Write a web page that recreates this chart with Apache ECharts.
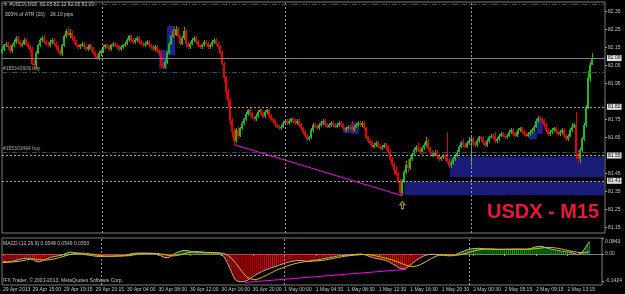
<!DOCTYPE html>
<html>
<head>
<meta charset="utf-8">
<title>USDX M15</title>
<script src="https://cdn.jsdelivr.net/npm/echarts@6/dist/echarts.min.js"></script>
<style>
html,body{margin:0;padding:0;background:#000;}
#chart{width:625px;height:294px;}
</style>
</head>
<body>
<div id="chart"></div>
<script>
// M15 bars, [open, close, low, high]
var bars = [
[82.12,82.14,82.11,82.15],[82.14,82.16,82.13,82.17],[82.16,82.17,82.15,82.18],[82.17,82.15,82.14,82.18],[82.15,82.13,82.12,82.16],[82.13,82.16,82.12,82.17],[82.16,82.18,82.15,82.19],[82.18,82.20,82.17,82.21],[82.20,82.18,82.17,82.21],[82.18,82.16,82.15,82.19],
[82.16,82.17,82.15,82.18],[82.17,82.19,82.16,82.20],[82.19,82.17,82.16,82.20],[82.17,82.15,82.14,82.18],[82.15,82.14,82.12,82.16],[82.14,82.06,82.05,82.15],[82.06,82.05,82.03,82.08],[82.05,82.12,82.03,82.13],[82.12,82.16,82.11,82.17],[82.16,82.19,82.15,82.20],
[82.19,82.20,82.18,82.21],[82.20,82.18,82.17,82.22],[82.18,82.17,82.16,82.19],[82.17,82.16,82.15,82.18],[82.16,82.18,82.15,82.19],[82.18,82.19,82.17,82.20],[82.19,82.17,82.16,82.20],[82.17,82.15,82.14,82.18],[82.15,82.13,82.12,82.16],[82.13,82.11,82.10,82.14],
[82.11,82.16,82.10,82.17],[82.16,82.21,82.15,82.22],[82.21,82.24,82.20,82.25],[82.24,82.22,82.21,82.26],[82.22,82.23,82.20,82.25],[82.23,82.20,82.19,82.24],[82.20,82.18,82.17,82.21],[82.18,82.16,82.15,82.19],[82.16,82.15,82.14,82.17],[82.15,82.16,82.14,82.17],
[82.16,82.17,82.15,82.18],[82.17,82.15,82.14,82.18],[82.15,82.14,82.13,82.16],[82.14,82.15,82.13,82.16],[82.15,82.16,82.14,82.17],[82.16,82.14,82.13,82.17],[82.14,82.12,82.11,82.15],[82.12,82.10,82.09,82.13],[82.10,82.09,82.08,82.11],[82.09,82.12,82.08,82.13],
[82.12,82.13,82.10,82.14],[82.13,82.15,82.12,82.16],[82.15,82.16,82.14,82.17],[82.16,82.15,82.14,82.17],[82.15,82.14,82.13,82.16],[82.14,82.16,82.13,82.17],[82.16,82.17,82.15,82.18],[82.17,82.16,82.15,82.18],[82.16,82.15,82.14,82.17],[82.15,82.14,82.13,82.16],
[82.14,82.15,82.13,82.16],[82.15,82.16,82.14,82.17],[82.16,82.17,82.15,82.18],[82.17,82.19,82.16,82.20],[82.19,82.21,82.18,82.22],[82.21,82.19,82.18,82.22],[82.19,82.18,82.17,82.20],[82.18,82.19,82.17,82.20],[82.19,82.20,82.18,82.21],[82.20,82.18,82.17,82.21],
[82.18,82.17,82.16,82.19],[82.17,82.16,82.15,82.18],[82.16,82.17,82.15,82.18],[82.17,82.18,82.16,82.19],[82.18,82.16,82.15,82.19],[82.16,82.15,82.14,82.17],[82.15,82.14,82.13,82.16],[82.14,82.15,82.13,82.16],[82.15,82.13,82.12,82.16],[82.13,82.12,82.10,82.14],
[82.12,82.05,82.04,82.13],[82.05,82.04,82.03,82.07],[82.04,82.07,82.03,82.08],[82.07,82.12,82.06,82.13],[82.12,82.17,82.11,82.18],[82.17,82.21,82.16,82.22],[82.21,82.24,82.20,82.25],[82.24,82.22,82.21,82.26],[82.22,82.25,82.21,82.27],[82.25,82.21,82.20,82.26],
[82.21,82.17,82.16,82.22],[82.17,82.20,82.16,82.21],[82.20,82.24,82.19,82.26],[82.24,82.17,82.15,82.25],[82.17,82.15,82.14,82.18],[82.15,82.17,82.14,82.18],[82.17,82.19,82.16,82.20],[82.19,82.20,82.18,82.21],[82.20,82.18,82.17,82.21],[82.18,82.16,82.15,82.19],
[82.16,82.15,82.14,82.17],[82.15,82.16,82.14,82.17],[82.16,82.18,82.15,82.19],[82.18,82.17,82.16,82.19],[82.17,82.15,82.14,82.18],[82.15,82.16,82.14,82.17],[82.16,82.18,82.15,82.19],[82.18,82.19,82.17,82.20],[82.19,82.17,82.16,82.20],[82.17,82.15,82.14,82.18],
[82.15,82.12,82.11,82.16],[82.12,82.06,82.05,82.13],[82.06,81.98,81.96,82.07],[81.98,81.90,81.87,81.99],[81.90,81.85,81.82,81.92],[81.85,81.74,81.72,81.87],[81.74,81.68,81.65,81.76],[81.68,81.63,81.61,81.70],[81.63,81.69,81.62,81.70],[81.69,81.66,81.64,81.71],
[81.66,81.70,81.65,81.71],[81.70,81.73,81.69,81.74],[81.73,81.75,81.72,81.76],[81.75,81.78,81.74,81.79],[81.78,81.80,81.77,81.81],[81.80,81.78,81.77,81.82],[81.78,81.76,81.75,81.79],[81.76,81.75,81.74,81.77],[81.75,81.77,81.74,81.78],[81.77,81.79,81.76,81.80],
[81.79,81.80,81.78,81.81],[81.80,81.78,81.77,81.81],[81.78,81.77,81.76,81.79],[81.77,81.79,81.76,81.80],[81.79,81.80,81.78,81.81],[81.80,81.77,81.76,81.81],[81.77,81.75,81.74,81.78],[81.75,81.74,81.73,81.76],[81.74,81.72,81.71,81.75],[81.72,81.71,81.70,81.73],
[81.71,81.70,81.69,81.72],[81.70,81.71,81.69,81.72],[81.71,81.73,81.70,81.74],[81.73,81.74,81.72,81.75],[81.74,81.73,81.72,81.75],[81.73,81.74,81.72,81.75],[81.74,81.75,81.73,81.76],[81.75,81.74,81.73,81.76],[81.74,81.73,81.72,81.75],[81.73,81.74,81.72,81.75],
[81.74,81.72,81.71,81.75],[81.72,81.70,81.69,81.73],[81.70,81.68,81.67,81.71],[81.68,81.66,81.65,81.69],[81.66,81.64,81.63,81.67],[81.64,81.65,81.63,81.66],[81.65,81.69,81.64,81.70],[81.69,81.72,81.68,81.73],[81.72,81.71,81.70,81.73],[81.71,81.70,81.69,81.72],
[81.70,81.72,81.69,81.73],[81.72,81.73,81.71,81.74],[81.73,81.74,81.72,81.75],[81.74,81.72,81.71,81.75],[81.72,81.71,81.70,81.73],[81.71,81.72,81.70,81.73],[81.72,81.73,81.71,81.74],[81.73,81.72,81.71,81.74],[81.72,81.71,81.70,81.73],[81.71,81.72,81.70,81.73],
[81.72,81.73,81.71,81.74],[81.73,81.72,81.71,81.74],[81.72,81.70,81.69,81.73],[81.70,81.69,81.68,81.71],[81.69,81.70,81.68,81.71],[81.70,81.71,81.69,81.72],[81.71,81.70,81.69,81.72],[81.70,81.69,81.68,81.74],[81.69,81.71,81.68,81.72],[81.71,81.72,81.70,81.73],
[81.72,81.73,81.71,81.74],[81.73,81.72,81.71,81.74],[81.72,81.73,81.71,81.74],[81.73,81.70,81.69,81.74],[81.70,81.65,81.64,81.71],[81.65,81.63,81.62,81.66],[81.63,81.62,81.61,81.64],[81.62,81.60,81.59,81.63],[81.60,81.61,81.59,81.62],[81.61,81.62,81.60,81.63],
[81.62,81.60,81.59,81.63],[81.60,81.59,81.58,81.61],[81.59,81.60,81.58,81.61],[81.60,81.61,81.59,81.62],[81.61,81.60,81.58,81.62],[81.60,81.57,81.56,81.61],[81.57,81.53,81.52,81.58],[81.53,81.50,81.49,81.54],[81.50,81.47,81.45,81.51],[81.47,81.45,81.44,81.49],
[81.45,81.41,81.40,81.46],[81.41,81.34,81.33,81.42],[81.34,81.41,81.33,81.42],[81.41,81.46,81.40,81.47],[81.46,81.50,81.45,81.52],[81.50,81.48,81.46,81.53],[81.48,81.53,81.47,81.54],[81.53,81.56,81.52,81.57],[81.56,81.58,81.55,81.59],[81.58,81.60,81.57,81.61],
[81.60,81.58,81.57,81.62],[81.58,81.57,81.56,81.60],[81.57,81.59,81.56,81.60],[81.59,81.61,81.58,81.62],[81.61,81.63,81.60,81.65],[81.63,81.59,81.58,81.64],[81.59,81.57,81.56,81.60],[81.57,81.55,81.54,81.58],[81.55,81.56,81.54,81.57],[81.56,81.57,81.55,81.58],
[81.57,81.55,81.53,81.58],[81.55,81.53,81.52,81.56],[81.53,81.54,81.52,81.55],[81.54,81.55,81.53,81.56],[81.55,81.54,81.52,81.56],[81.54,81.52,81.51,81.68],[81.52,81.50,81.48,81.53],[81.50,81.51,81.48,81.52],[81.51,81.53,81.50,81.54],[81.53,81.55,81.52,81.56],
[81.55,81.57,81.54,81.58],[81.57,81.60,81.56,81.61],[81.60,81.62,81.59,81.63],[81.62,81.61,81.60,81.64],[81.61,81.60,81.59,81.62],[81.60,81.62,81.59,81.63],[81.62,81.63,81.61,81.65],[81.63,81.64,81.49,81.65],[81.64,81.62,81.61,81.65],[81.62,81.61,81.60,81.63],
[81.61,81.63,81.60,81.64],[81.63,81.65,81.62,81.66],[81.65,81.64,81.63,81.66],[81.64,81.62,81.61,81.65],[81.62,81.61,81.60,81.63],[81.61,81.63,81.60,81.64],[81.63,81.65,81.62,81.66],[81.65,81.66,81.64,81.67],[81.66,81.65,81.64,81.67],[81.65,81.63,81.62,81.68],
[81.63,81.64,81.62,81.65],[81.64,81.66,81.63,81.67],[81.66,81.67,81.65,81.68],[81.67,81.66,81.65,81.68],[81.66,81.65,81.64,81.67],[81.65,81.66,81.64,81.67],[81.66,81.68,81.65,81.69],[81.68,81.69,81.67,81.70],[81.69,81.67,81.66,81.70],[81.67,81.66,81.65,81.68],
[81.66,81.68,81.65,81.69],[81.68,81.69,81.67,81.70],[81.69,81.70,81.68,81.71],[81.70,81.68,81.67,81.71],[81.68,81.67,81.66,81.69],[81.67,81.66,81.65,81.68],[81.66,81.67,81.65,81.68],[81.67,81.68,81.66,81.69],[81.68,81.69,81.67,81.70],[81.69,81.71,81.68,81.72],
[81.71,81.74,81.70,81.75],[81.74,81.76,81.73,81.77],[81.76,81.75,81.74,81.77],[81.75,81.74,81.73,81.76],[81.74,81.72,81.71,81.75],[81.72,81.69,81.68,81.73],[81.69,81.67,81.66,81.70],[81.67,81.68,81.66,81.69],[81.68,81.69,81.67,81.70],[81.69,81.70,81.68,81.71],
[81.70,81.68,81.67,81.71],[81.68,81.67,81.66,81.69],[81.67,81.68,81.66,81.69],[81.68,81.69,81.67,81.70],[81.69,81.66,81.65,81.70],[81.66,81.64,81.63,81.67],[81.64,81.66,81.63,81.67],[81.66,81.69,81.65,81.70],[81.69,81.71,81.68,81.73],[81.71,81.72,81.70,81.73],
[81.72,81.56,81.53,81.79],[81.56,81.53,81.51,81.58],[81.53,81.58,81.51,81.59],[81.58,81.64,81.57,81.65],[81.64,81.72,81.63,81.73],[81.72,81.82,81.71,81.83],[81.82,81.98,81.81,82.02],[81.98,82.05,81.96,82.07],[82.05,82.09,82.05,82.12]
];

var macd = [
-0.045,-0.045,-0.044,-0.043,-0.041,-0.038,-0.035,-0.032,-0.029,-0.027,
-0.025,-0.023,-0.022,-0.022,-0.023,-0.028,-0.035,-0.040,-0.042,-0.040,
-0.036,-0.031,-0.027,-0.023,-0.019,-0.016,-0.013,-0.011,-0.010,-0.010,
-0.006,-0.001,0.004,0.009,0.010,0.009,0.008,0.006,0.004,0.002,
0.000,-0.002,-0.004,-0.006,-0.007,-0.008,-0.010,-0.012,-0.013,-0.014,
-0.014,-0.013,-0.012,-0.012,-0.012,-0.011,-0.011,-0.011,-0.010,-0.010,
-0.010,-0.009,-0.007,-0.005,-0.002,0.001,0.003,0.004,0.005,0.005,
0.005,0.005,0.004,0.004,0.003,0.003,0.002,0.001,0.000,-0.002,
-0.008,-0.014,-0.018,-0.021,-0.020,-0.014,-0.007,0.000,0.006,0.011,
0.014,0.016,0.019,0.020,0.017,0.014,0.012,0.011,0.009,0.008,
0.008,0.007,0.006,0.006,0.006,0.006,0.006,0.006,0.006,0.005,
0.004,0.000,-0.010,-0.025,-0.045,-0.068,-0.092,-0.115,-0.135,-0.145,
-0.146,-0.146,-0.146,-0.145,-0.140,-0.133,-0.126,-0.119,-0.113,-0.107,
-0.101,-0.096,-0.091,-0.086,-0.082,-0.078,-0.074,-0.070,-0.067,-0.064,
-0.061,-0.057,-0.053,-0.049,-0.046,-0.043,-0.041,-0.039,-0.037,-0.035,
-0.034,-0.034,-0.035,-0.037,-0.039,-0.039,-0.037,-0.035,-0.033,-0.032,
-0.031,-0.029,-0.027,-0.025,-0.023,-0.021,-0.019,-0.017,-0.015,-0.013,
-0.011,-0.010,-0.009,-0.008,-0.007,-0.006,-0.005,-0.004,-0.003,-0.002,
-0.001,0.000,0.000,-0.001,-0.004,-0.008,-0.012,-0.016,-0.019,-0.022,
-0.024,-0.026,-0.028,-0.030,-0.032,-0.035,-0.040,-0.046,-0.052,-0.058,
-0.064,-0.071,-0.077,-0.080,-0.079,-0.074,-0.067,-0.059,-0.050,-0.041,
-0.033,-0.026,-0.020,-0.015,-0.010,-0.006,-0.003,-0.001,-0.001,-0.002,
-0.003,-0.004,-0.005,-0.006,-0.007,-0.008,-0.009,-0.010,-0.010,-0.008,
-0.004,0.001,0.006,0.011,0.015,0.019,0.022,0.025,0.027,0.028,
0.029,0.030,0.030,0.029,0.028,0.027,0.026,0.025,0.025,0.024,
0.024,0.024,0.024,0.024,0.024,0.024,0.025,0.025,0.025,0.026,
0.026,0.026,0.026,0.026,0.025,0.025,0.025,0.026,0.028,0.031,
0.035,0.038,0.040,0.041,0.040,0.037,0.033,0.030,0.027,0.025,
0.023,0.021,0.019,0.017,0.015,0.013,0.012,0.011,0.010,0.010,
0.005,-0.001,-0.004,-0.002,0.006,0.018,0.034,0.050,0.065
];

var signal = [
-0.040,-0.041,-0.042,-0.042,-0.042,-0.042,-0.041,-0.040,-0.039,-0.037,
-0.035,-0.033,-0.031,-0.029,-0.027,-0.026,-0.026,-0.027,-0.029,-0.030,
-0.031,-0.032,-0.032,-0.031,-0.030,-0.028,-0.026,-0.024,-0.021,-0.018,
-0.015,-0.012,-0.009,-0.006,-0.003,-0.001,0.001,0.003,0.004,0.005,
0.005,0.004,0.003,0.002,0.001,0.000,-0.002,-0.004,-0.006,-0.008,
-0.009,-0.010,-0.011,-0.012,-0.012,-0.012,-0.012,-0.012,-0.011,-0.011,
-0.011,-0.011,-0.010,-0.010,-0.009,-0.008,-0.006,-0.004,-0.002,0.000,
0.002,0.003,0.004,0.004,0.004,0.004,0.004,0.003,0.003,0.002,
0.001,-0.001,-0.003,-0.005,-0.007,-0.009,-0.010,-0.010,-0.009,-0.007,
-0.005,-0.002,0.001,0.004,0.007,0.009,0.011,0.012,0.012,0.012,
0.012,0.011,0.010,0.009,0.008,0.007,0.007,0.006,0.006,0.006,
0.006,0.005,0.003,0.000,-0.005,-0.012,-0.021,-0.032,-0.045,-0.058,
-0.072,-0.086,-0.099,-0.111,-0.122,-0.128,-0.132,-0.134,-0.135,-0.134,
-0.131,-0.127,-0.122,-0.117,-0.112,-0.107,-0.101,-0.096,-0.091,-0.086,
-0.081,-0.077,-0.073,-0.069,-0.065,-0.061,-0.058,-0.055,-0.052,-0.049,
-0.047,-0.045,-0.043,-0.041,-0.040,-0.039,-0.038,-0.038,-0.037,-0.037,
-0.036,-0.035,-0.034,-0.033,-0.031,-0.029,-0.027,-0.025,-0.023,-0.021,
-0.019,-0.017,-0.015,-0.013,-0.012,-0.010,-0.009,-0.008,-0.007,-0.006,
-0.005,-0.004,-0.003,-0.003,-0.003,-0.003,-0.004,-0.005,-0.007,-0.009,
-0.011,-0.013,-0.016,-0.018,-0.021,-0.023,-0.026,-0.029,-0.032,-0.035,
-0.039,-0.043,-0.047,-0.052,-0.056,-0.060,-0.063,-0.065,-0.066,-0.066,
-0.064,-0.061,-0.057,-0.052,-0.046,-0.040,-0.034,-0.028,-0.022,-0.017,
-0.012,-0.009,-0.006,-0.005,-0.004,-0.004,-0.005,-0.005,-0.006,-0.007,
-0.007,-0.006,-0.005,-0.003,0.000,0.003,0.006,0.009,0.012,0.015,
0.018,0.020,0.022,0.024,0.025,0.026,0.027,0.027,0.027,0.027,
0.026,0.026,0.025,0.025,0.025,0.025,0.025,0.025,0.025,0.025,
0.025,0.025,0.025,0.025,0.025,0.025,0.025,0.025,0.026,0.026,
0.027,0.028,0.029,0.031,0.032,0.033,0.034,0.034,0.034,0.034,
0.033,0.032,0.030,0.028,0.026,0.024,0.021,0.019,0.017,0.015,
0.013,0.011,0.009,0.007,0.006,0.006,0.007,0.009,0.012
];

var timeLabels = ['29 Apr 2013','29 Apr 15:00','29 Apr 19:15','29 Apr 23:15','30 Apr 04:00','30 Apr 08:00','30 Apr 12:00','30 Apr 16:00','30 Apr 20:00','1 May 00:00','1 May 04:30','1 May 08:30','1 May 12:30','1 May 16:30','1 May 20:30','2 May 00:30','2 May 05:15','2 May 09:15','2 May 13:15'];
var labelBars = [0,15,31,47,63,79,95,111,127,143,159,175,191,207,223,239,255,271,287];
var daySplits = [50,143,237];

var priceTicks = [82.35,82.25,82.15,82.05,81.95,81.75,81.65,81.45,81.35,81.25,81.15];
var macdTicks = [0.0843,0,-0.1424];

// order lines and marked levels
var orderLevels = [82.39,82.01,81.57];
var orderTickets = ['','#155342609 buy','#155303494 buy'];
var bidPrice = 82.09;
var markLevels = [81.82,81.55,81.41];

// supply/demand boxes: [fromBar, top, toBar, bottom]
var zones = [[226,81.545,304,81.43],[203,81.405,304,81.33]];
var smallZones = [[79,82.135,83,82.03],[83,82.268,87,82.107],[172,81.71,176,81.675],[176,81.735,180,81.67],[266,81.68,270,81.64],[270,81.76,273,81.67]];

// divergence lines
var priceDiv = [[117,81.61],[202,81.327]];
var macdDiv = [[123,-0.150],[205,-0.081]];
var arrowPoint = [202,81.275];

var slots = 305;
var cats = [];
for (var i = 0; i < slots; i++) cats.push(String(i));

var candleData = bars.map(function (b, k) { return [k, b[0], b[1], b[2], b[3]]; });

var font = 'Liberation Sans';
var txt = '#c4c4c4';
var frame = '#7c7c7c';
var bull = '#1cbc1c', bear = '#ee0000';

var sepStyle = {color:'#9a9a9a', type:[2,2], width:1};
var dashDot = {color:'#2f5252', type:[5,2,1,2], width:1};
var dotted = {color:'#a8a8a8', type:[2,2], width:1};
var boxLabel = function (t) {
	return {show:true, position:'end', distance:2, formatter:t, color:'#000', backgroundColor:'#e4e4e4',
		fontSize:5, fontFamily:font, padding:[1,1,0,1]};
};

var mainLines = [];
daySplits.forEach(function (b) { mainLines.push({xAxis:b, lineStyle:sepStyle}); });
orderLevels.forEach(function (p, k) {
	var it = {yAxis:p, lineStyle:dashDot};
	if (orderTickets[k]) it.label = {show:true, position:'insideStartTop', distance:1, formatter:orderTickets[k], color:'#a8a8a8', fontSize:5, fontFamily:font};
	mainLines.push(it);
});
mainLines.push({yAxis:bidPrice, lineStyle:{color:'#808080', type:'solid', width:1}, label:boxLabel(bidPrice.toFixed(2))});
markLevels.forEach(function (p) { mainLines.push({yAxis:p, lineStyle:dotted, label:boxLabel(p.toFixed(2))}); });
mainLines.push([
	{coord:priceDiv[0], lineStyle:{color:'#ff00ff', width:1, type:'solid'}},
	{coord:priceDiv[1], lineStyle:{color:'#ff00ff', width:1, type:'solid'}}
]);

var macdLines = [];
daySplits.forEach(function (b) { macdLines.push({xAxis:b, lineStyle:sepStyle}); });
macdLines.push([
	{coord:macdDiv[0], lineStyle:{color:'#ff00ff', width:1, type:'solid'}},
	{coord:macdDiv[1], lineStyle:{color:'#ff00ff', width:1, type:'solid'}}
]);

var areas = [];
zones.forEach(function (z) {
	areas.push([{xAxis:z[0], yAxis:z[1], itemStyle:{color:'#1b1b78'}}, {xAxis:z[2], yAxis:z[3]}]);
});
smallZones.forEach(function (z) {
	areas.push([{xAxis:z[0], yAxis:z[1], itemStyle:{color:'#22228c'}}, {xAxis:z[2], yAxis:z[3]}]);
});

function isLabelBar(idx) { return labelBars.indexOf(idx) >= 0; }

// pixel-snapped MT4 style candle: 1px wick, 2px body
function renderCandle(params, api) {
	var k = api.value(0), o = api.value(1), c = api.value(2), l = api.value(3), h = api.value(4);
	var pO = api.coord([k, o]), pC = api.coord([k, c]), pL = api.coord([k, l]), pH = api.coord([k, h]);
	var x = Math.floor(pO[0]);
	var col = c >= o ? bull : bear;
	var yH = Math.round(pH[1]), yL = Math.round(pL[1]);
	var top = Math.round(Math.min(pO[1], pC[1])), bot = Math.round(Math.max(pO[1], pC[1]));
	return {type:'group', children:[
		{type:'rect', shape:{x:x, y:yH, width:1, height:Math.max(1, yL - yH)}, style:{fill:col}},
		{type:'rect', shape:{x:x - 1, y:top, width:2, height:Math.max(1, bot - top)}, style:{fill:col}}
	]};
}

var myChart = echarts.init(document.getElementById('chart'));
myChart.setOption({
	backgroundColor:'#000',
	animation:false,
	grid:[
		{left:2, right:20, top:2, height:231, show:true, borderColor:frame, borderWidth:1, backgroundColor:'#000'},
		{left:2, right:20, top:238, height:47, show:true, borderColor:frame, borderWidth:1, backgroundColor:'#000'}
	],
	xAxis:[
		{type:'category', gridIndex:0, data:cats, boundaryGap:true,
			axisLine:{show:false}, axisTick:{show:false}, axisLabel:{show:false}, splitLine:{show:false}},
		{type:'category', gridIndex:1, data:cats, boundaryGap:true,
			axisLine:{show:true, lineStyle:{color:frame}},
			axisTick:{show:true, alignWithLabel:true, length:2, interval:isLabelBar, lineStyle:{color:'#a0a0a0'}},
			axisLabel:{interval:isLabelBar, align:'left', margin:2, color:txt, fontSize:5, fontFamily:font,
				formatter:function (v, idx) { return timeLabels[labelBars.indexOf(idx)]; }},
			splitLine:{show:false}}
	],
	yAxis:[
		{type:'value', gridIndex:0, position:'right', min:81.1206, max:82.401,
			splitLine:{show:false}, axisLine:{show:false},
			axisTick:{show:true, length:2, customValues:priceTicks, lineStyle:{color:'#a0a0a0'}},
			axisLabel:{customValues:priceTicks, margin:3, color:txt, fontSize:5, fontFamily:font,
				formatter:function (v) { return v.toFixed(2); }}},
		{type:'value', gridIndex:1, position:'right', min:-0.1635, max:0.0843,
			splitLine:{show:false}, axisLine:{show:false},
			axisTick:{show:true, length:2, customValues:macdTicks, lineStyle:{color:'#a0a0a0'}},
			axisLabel:{customValues:macdTicks, margin:3, color:txt, fontSize:5, fontFamily:font,
				formatter:function (v) {
					if (v === 0) return '0.00';
					if (v > 0) return '{t|' + v.toFixed(4) + '}';
					return v.toFixed(4);
				},
				rich:{t:{color:txt, fontSize:5, fontFamily:font, padding:[8,0,0,0]}}}}
	],
	series:[
		{
			name:'USDX', type:'custom', xAxisIndex:0, yAxisIndex:0, data:candleData,
			renderItem:renderCandle, encode:{x:0, y:[1,2,3,4]}, silent:true,
			markArea:{silent:true, data:areas},
			markLine:{silent:true, symbol:['none','none'], label:{show:false}, data:mainLines}
		},
		{
			name:'arrow', type:'scatter', xAxisIndex:0, yAxisIndex:0, data:[arrowPoint],
			symbol:'path://M3,0 L6,3 L4.2,3 L4.2,7 L1.8,7 L1.8,3 L0,3 Z', symbolSize:[5,7],
			itemStyle:{color:'rgba(0,0,0,0)', borderColor:'#e8d400', borderWidth:1}, silent:true
		},
		{
			name:'hist', type:'bar', xAxisIndex:1, yAxisIndex:1, data:macd, barWidth:1,
			itemStyle:{color:function (p) { return p.value >= 0 ? '#00b400' : '#ff0000'; }},
			markLine:{silent:true, symbol:['none','none'], label:{show:false}, data:macdLines}
		},
		{
			name:'MACD', type:'line', xAxisIndex:1, yAxisIndex:1, data:macd, symbol:'none',
			lineStyle:{color:'#b0b0b0', width:1}
		},
		{
			name:'Signal', type:'line', xAxisIndex:1, yAxisIndex:1, data:signal, symbol:'none',
			lineStyle:{color:'#e0c000', width:1}
		}
	],
	graphic:[
		{type:'text', x:3, y:4.5, style:{text:'\u25BC #USDX,M15  82.05 82.12 82.05 82.09', fill:txt, font:'5px "' + font + '"', verticalAlign:'middle'}},
		{type:'text', x:5, y:15, style:{text:'300% of ATR (20):   26.10 pips', fill:txt, font:'5px "' + font + '"', verticalAlign:'middle'}},
		{type:'text', x:3, y:243.5, style:{text:'MACD (12,26,9) 0.0549 0.0549 0.0350', fill:txt, font:'5px "' + font + '"', verticalAlign:'middle'}},
		{type:'text', x:3, y:281, style:{text:'IFX Trader, \u00A9 2001-2013, MetaQuotes Software Corp.', fill:txt, font:'5px "' + font + '"', verticalAlign:'middle'}},
		{type:'text', x:487, y:212, style:{text:'USDX - M15', fill:'#f0143c', font:'bold 20px "' + font + '"', verticalAlign:'middle'}}
	]
});
</script>
</body>
</html>
